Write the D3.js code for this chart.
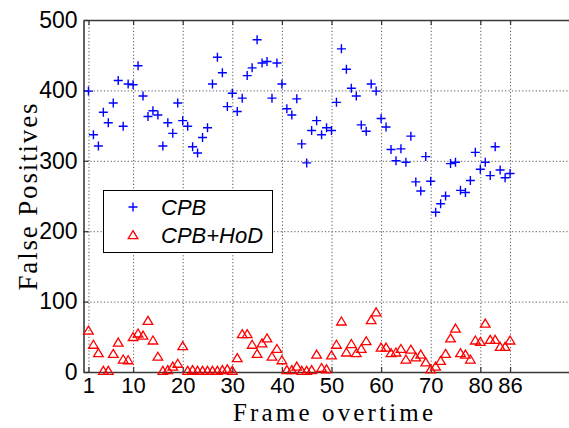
<!DOCTYPE html>
<html>
<head>
<meta charset="utf-8">
<script src="https://cdn.jsdelivr.net/npm/d3@7"></script>
<style>
  body { margin: 0; background: #fff; }
  .tick text { font-family: "Liberation Sans", Arial, sans-serif; font-size: 23px; fill: #000; }
  .grid line { stroke: #555; stroke-dasharray: 1.2 2.2; stroke-width: 1; }
  .grid .domain { display: none; }
</style>
</head>
<body>
<script>
// ==========================================
// 1. DATA
// ==========================================

const frames = d3.range(1, 87); // frame 1 ... 86

const cpb = [
  399, 337, 321, 369, 354, 382, 414, 349, 409, 408,
  435, 392, 363, 371, 365, 321, 354, 339, 382, 357,
  349, 320, 311, 333, 347, 409, 447, 425, 377, 396,
  370, 389, 421, 432, 472, 439, 441, 389, 439, 409,
  374, 365, 388, 324, 297, 343, 357, 337, 347, 343,
  383, 459, 430, 403, 392, 351, 342, 409, 399, 360,
  348, 316, 300, 317, 298, 335, 270, 257, 306, 271,
  227, 239, 250, 296, 298, 258, 255, 272, 312, 288,
  298, 279, 320, 287, 276, 282
];

const cpbHod = [
  59, 39, 27, 2, 2, 26, 42, 18, 17, 50,
  55, 52, 73, 45, 22, 2, 3, 8, 12, 37,
  2, 3, 2, 2, 2, 2, 2, 3, 4, 2,
  20, 54, 54, 39, 26, 41, 48, 22, 33, 17,
  3, 3, 8, 2, 2, 3, 25, 6, 4, 24,
  39, 72, 28, 40, 27, 33, 44, 74, 85, 35,
  35, 27, 28, 33, 18, 32, 21, 25, 14, 4,
  8, 16, 26, 48, 62, 27, 25, 18, 45, 43,
  69, 46, 46, 36, 36, 45
];

const xTicks = [1, 10, 20, 30, 40, 50, 60, 70, 80, 86];
const yTicks = [0, 100, 200, 300, 400, 500];
const legendLabels = ["CPB", "CPB+HoD"];

// ==========================================
// 2. SETUP
// ==========================================

const W = 569, H = 428;
const plotLeft = 83.5, plotRight = 579.5, plotTop = 20, plotBottom = 372;

const svg = d3.select("body").append("svg")
    .attr("width", W)
    .attr("height", H);

const xScale = d3.scaleLinear().domain([0, 100]).range([plotLeft, plotRight]);
const yScale = d3.scaleLinear().domain([0, 500]).range([plotBottom, plotTop]);

// dotted grid
svg.append("g").attr("class", "grid")
    .attr("transform", `translate(0,${plotBottom})`)
    .call(d3.axisBottom(xScale).tickValues(xTicks).tickSize(-(plotBottom - plotTop)).tickFormat(""));
svg.append("g").attr("class", "grid")
    .attr("transform", `translate(${plotLeft},0)`)
    .call(d3.axisLeft(yScale).tickValues(yTicks.slice(1, -1)).tickSize(-(plotRight - plotLeft)).tickFormat(""));

// axes (ticks point inward, like MATLAB)
const axisColor = "#3a3a3a";

const xAxis = svg.append("g")
    .attr("transform", `translate(0,${plotBottom})`)
    .call(d3.axisBottom(xScale).tickValues(xTicks).tickSize(-5).tickSizeOuter(0).tickPadding(4));

const yAxis = svg.append("g")
    .attr("transform", `translate(${plotLeft},0)`)
    .call(d3.axisLeft(yScale).tickValues(yTicks).tickSize(-5).tickSizeOuter(0).tickPadding(6));

const topAxis = svg.append("g")
    .attr("transform", `translate(0,${plotTop})`)
    .call(d3.axisTop(xScale).tickValues(xTicks).tickSize(-5).tickSizeOuter(0).tickFormat(""));

[xAxis, yAxis, topAxis].forEach(g => {
    g.select(".domain").attr("stroke", axisColor).attr("stroke-width", 1.6);
    g.selectAll(".tick line").attr("stroke", axisColor).attr("stroke-width", 1.3);
});
xAxis.selectAll(".tick text")
    .style("font-size", "22px")
    .attr("dy", "0.75em");

// axis titles
svg.append("text")
    .attr("x", 333).attr("y", 421)
    .attr("text-anchor", "middle")
    .attr("font-family", "Liberation Serif, Times New Roman, serif")
    .attr("font-size", 25)
    .attr("textLength", 200)
    .attr("lengthAdjust", "spacing")
    .text("Frame overtime");

svg.append("text")
    .attr("transform", "translate(37,197) rotate(-90)")
    .attr("text-anchor", "middle")
    .attr("font-family", "Liberation Serif, Times New Roman, serif")
    .attr("font-size", 27)
    .attr("textLength", 187)
    .attr("lengthAdjust", "spacing")
    .text("False Positives");

// ==========================================
// 3. MARKERS
// ==========================================

const plusPath = "M-4.5,0H4.5M0,-4.5V4.5";
const triPath = "M0,-4.3L4.8,3.7L-4.8,3.7Z";

svg.append("g").selectAll("path")
    .data(frames)
    .join("path")
    .attr("transform", (d, i) => `translate(${xScale(d)},${yScale(cpb[i])})`)
    .attr("d", plusPath)
    .attr("fill", "none")
    .attr("stroke", "#0000ff")
    .attr("stroke-width", 1.4);

svg.append("g").selectAll("path")
    .data(frames)
    .join("path")
    .attr("transform", (d, i) => `translate(${xScale(d)},${yScale(cpbHod[i])})`)
    .attr("d", triPath)
    .attr("fill", "none")
    .attr("stroke", "#ff0000")
    .attr("stroke-width", 1.3);

// ==========================================
// 4. LEGEND
// ==========================================

const legend = svg.append("g");
legend.append("rect")
    .attr("x", 103.5).attr("y", 190.5)
    .attr("width", 169).attr("height", 62)
    .attr("fill", "#fff")
    .attr("stroke", "#000")
    .attr("stroke-width", 1);

legendLabels.forEach((label, i) => {
    const y = 207 + i * 28;
    legend.append("path")
        .attr("transform", `translate(133,${y})`)
        .attr("d", i === 0 ? plusPath : triPath)
        .attr("fill", "none")
        .attr("stroke", i === 0 ? "#0000ff" : "#ff0000")
        .attr("stroke-width", i === 0 ? 1.4 : 1.3);
    legend.append("text")
        .attr("x", 161).attr("y", y + 8)
        .attr("font-family", "Liberation Sans, Arial, sans-serif")
        .attr("font-style", "italic")
        .attr("font-size", 22)
        .text(label);
});
</script>
</body>
</html>
